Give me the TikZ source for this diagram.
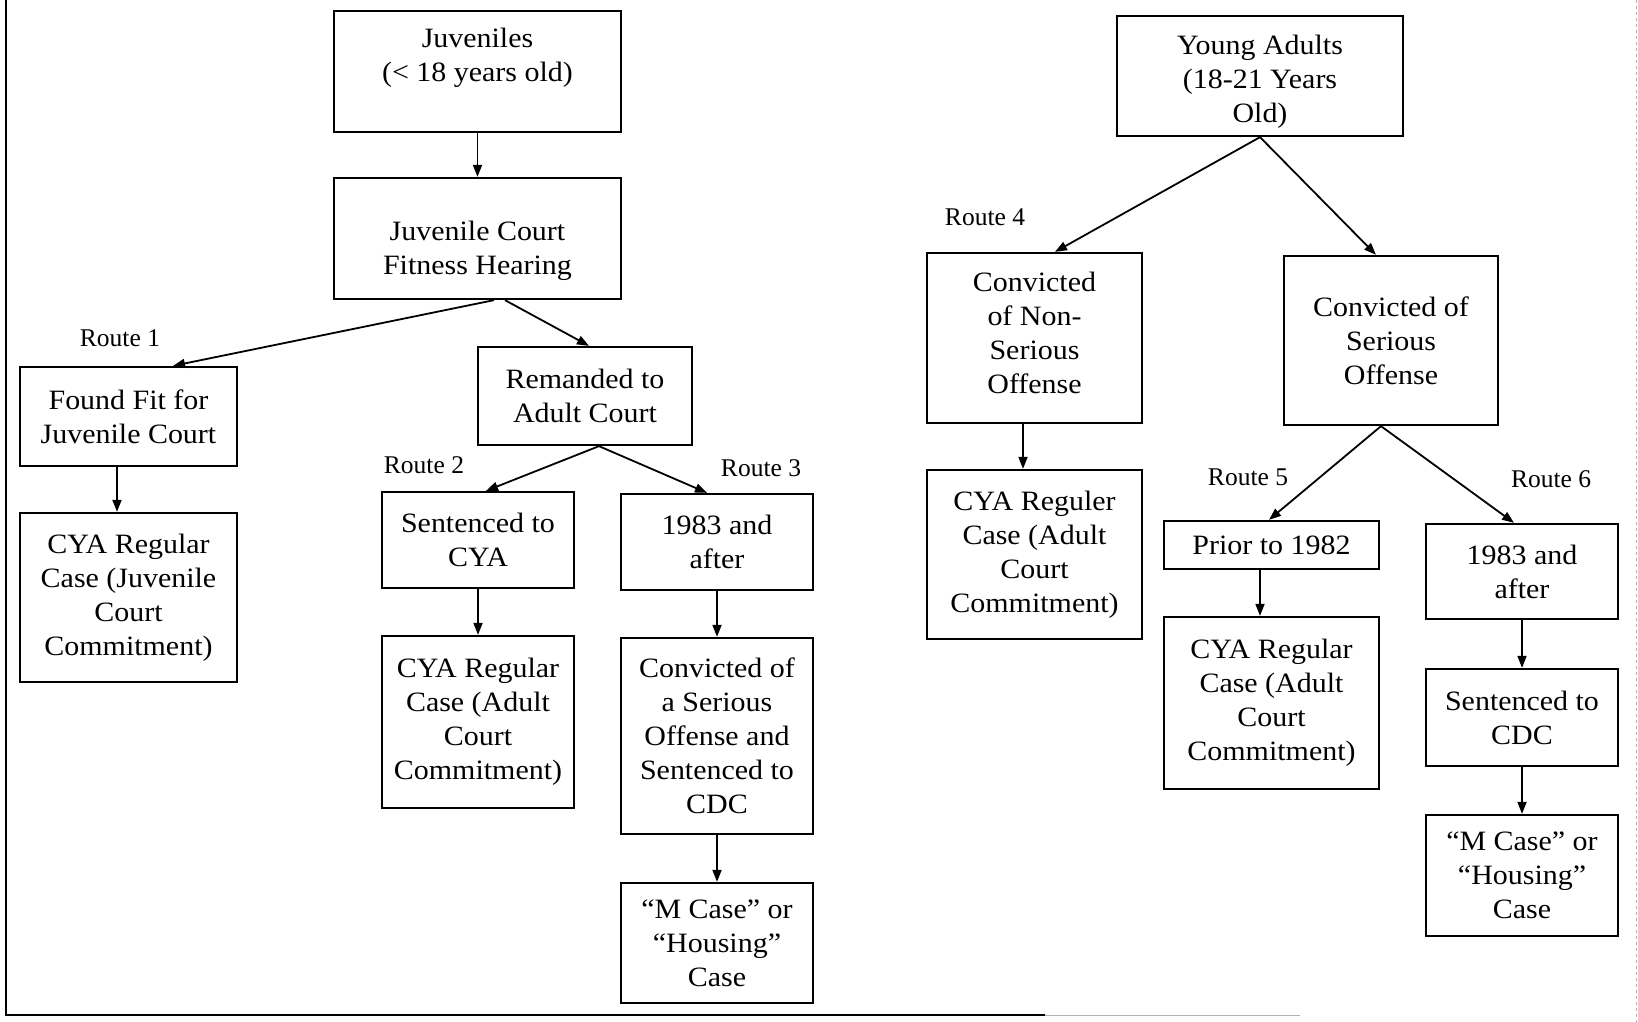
\documentclass[tikz,border=0pt]{standalone}
\usepackage{fontspec}
\setmainfont{Liberation Serif}[FakeStretch=1.07]
\newfontfamily\lblfont{Liberation Serif}
\usetikzlibrary{arrows.meta}
\begin{document}
\begin{tikzpicture}[x=1pt,y=-1pt,
  box/.style={draw, line width=2.3pt, align=center, inner sep=0pt, font=\fontsize{28}{34}\selectfont},
  lbl/.style={inner sep=0pt, font=\lblfont\fontsize{25.5}{30}\selectfont},
  arr/.style={line width=1.8pt, -{Triangle[length=12pt,width=9pt]}},
  frame/.style={line width=2pt}]
\useasboundingbox (0,0) rectangle (1638,1022);

% left tree
\node[box, minimum width=287pt, minimum height=121pt] (juv) at (477.5,71.5) {Juveniles\\(< 18 years old)\\\mbox{}};
\node[box, minimum width=287pt, minimum height=121pt] (jc) at (477.5,238.5) {\mbox{}\\[10pt]Juvenile Court\\Fitness Hearing};
\node[box, minimum width=217pt, minimum height=99pt] (ff) at (128.5,416.5) {Found Fit for\\Juvenile Court};
\node[box, minimum width=217pt, minimum height=169pt] (cyaj) at (128.5,597.5) {CYA Regular\\Case (Juvenile\\Court\\Commitment)};
\node[box, minimum width=214pt, minimum height=98pt] (rem) at (585,396) {Remanded to\\Adult Court};
\node[box, minimum width=192pt, minimum height=96pt] (scya) at (478,540) {Sentenced to\\CYA};
\node[box, minimum width=192pt, minimum height=96pt] (a83) at (717,542) {1983 and\\after};
\node[box, minimum width=192pt, minimum height=172pt] (cyaa) at (478,722) {CYA Regular\\Case (Adult\\Court\\Commitment)};
\node[box, minimum width=192pt, minimum height=196pt] (conv) at (717,736) {Convicted of\\a Serious\\Offense and\\Sentenced to\\CDC};
\node[box, minimum width=192pt, minimum height=120pt] (mcase) at (717,943) {“M Case” or\\“Housing”\\Case};

% right tree
\node[box, minimum width=286pt, minimum height=120pt] (ya) at (1260,76) {\mbox{}\\[-4pt]Young Adults\\(18-21 Years\\Old)};
\node[box, minimum width=215pt, minimum height=170pt] (ns) at (1034.5,338) {Convicted\\of Non-\\Serious\\Offense\\[-24pt]\mbox{}};
\node[box, minimum width=214pt, minimum height=169pt] (ser) at (1391,340.5) {Convicted of\\Serious\\Offense};
\node[box, minimum width=215pt, minimum height=169pt] (cyar) at (1034.5,554.5) {CYA Reguler\\Case (Adult\\Court\\Commitment)};
\node[box, minimum width=215pt, minimum height=48pt] (prior) at (1271.5,545) {Prior to 1982};
\node[box, minimum width=215pt, minimum height=172pt] (cyar2) at (1271.5,703) {CYA Regular\\Case (Adult\\Court\\Commitment)};
\node[box, minimum width=192pt, minimum height=95pt] (b83) at (1522,571.5) {1983 and\\after};
\node[box, minimum width=192pt, minimum height=97pt] (cdc) at (1522,717.5) {Sentenced to\\CDC};
\node[box, minimum width=192pt, minimum height=121pt] (mcase2) at (1522,875.5) {“M Case” or\\“Housing”\\Case};

% route labels
\node[lbl] (r1) at (120,338) {Route 1};
\node[lbl] (r2) at (424,465) {Route 2};
\node[lbl] (r3) at (761,468) {Route 3};
\node[lbl] (r4) at (985,217) {Route 4};
\node[lbl] (r5) at (1248,477) {Route 5};
\node[lbl] (r6) at (1551,479) {Route 6};

% connectors
\draw[arr] (juv.south) -- (jc.north);
\draw[arr] ([xshift=16.5pt]jc.south) -- ([xshift=44.5pt]ff.north);
\draw[arr] ([xshift=27.5pt]jc.south) -- ([xshift=4pt]rem.north);
\draw[arr] ([xshift=-11.5pt]ff.south) -- ([xshift=-11.5pt]cyaj.north);
\draw[arr] ([xshift=14pt]rem.south) -- ([xshift=8pt]scya.north);
\draw[arr] ([xshift=14pt]rem.south) -- ([xshift=-10pt]a83.north);
\draw[arr] (scya.south) -- (cyaa.north);
\draw[arr] (a83.south) -- (conv.north);
\draw[arr] (conv.south) -- (mcase.north);
\draw[arr] (ya.south) -- ([xshift=20.5pt]ns.north);
\draw[arr] (ya.south) -- ([xshift=-15pt]ser.north);
\draw[arr] ([xshift=-11.5pt]ns.south) -- ([xshift=-11.5pt]cyar.north);
\draw[arr] ([xshift=-10pt]ser.south) -- ([xshift=-2.5pt]prior.north);
\draw[arr] ([xshift=-10pt]ser.south) -- ([xshift=-8pt]b83.north);
\draw[arr] ([xshift=-11.5pt]prior.south) -- ([xshift=-11.5pt]cyar2.north);
\draw[arr] (b83.south) -- (cdc.north);
\draw[arr] (cdc.south) -- (mcase2.north);

% page frame
\draw[frame] (6,0) -- (6,1015) -- (1045,1015);
\draw[line width=1pt, gray!60] (1045,1015) -- (1300,1015);
\draw[line width=1pt, gray!60, dashed] (1636,0) -- (1636,1022);
\end{tikzpicture}
\end{document}
